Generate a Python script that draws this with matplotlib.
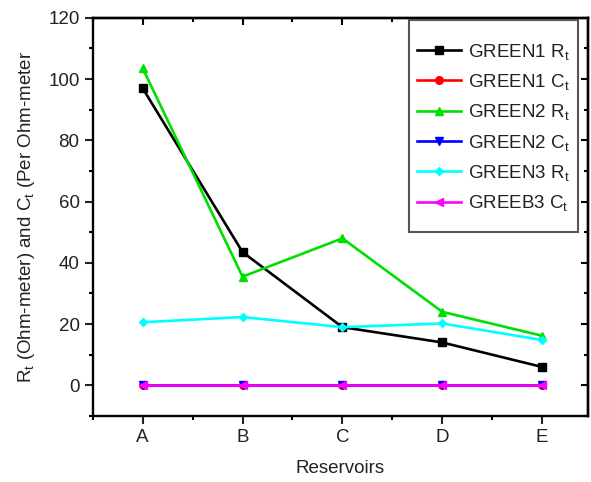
import matplotlib
matplotlib.use("Agg")
from matplotlib import pyplot as plt
from matplotlib.patches import Rectangle
from matplotlib.ticker import MultipleLocator

plt.rcParams['font.family'] = ['Liberation Sans', 'DejaVu Sans']
plt.rcParams['mathtext.default'] = 'regular'

reservoirs = ["A", "B", "C", "D", "E"]
green1_rt = [97, 43.5, 19, 14, 6]
green1_ct = [0, 0, 0, 0, 0]
green2_rt = [103.5, 35.5, 48, 24, 16.2]
green2_ct = [0, 0, 0, 0, 0]
green3_rt = [20.6, 22.3, 19, 20.2, 14.8]
greeb3_ct = [0, 0, 0, 0, 0]

x = list(range(1, len(reservoirs) + 1))

fig = plt.figure(figsize=(5.91, 4.82), dpi=100)
ax = fig.add_axes([0.157, 0.137, 0.838, 0.826])

series = [
    (green1_rt, "black", "s", "GREEN1 R$_t$"),
    (green1_ct, "red", "o", "GREEN1 C$_t$"),
    (green2_rt, "#00e000", "^", "GREEN2 R$_t$"),
    (green2_ct, "blue", "v", "GREEN2 C$_t$"),
    (green3_rt, "cyan", "D", "GREEN3 R$_t$"),
    (greeb3_ct, "magenta", "<", "GREEB3 C$_t$"),
]
for vals, col, mk, lab in series:
    ms = 4.5 if mk == "D" else 5.5
    ax.plot(x, vals, color=col, marker=mk, markersize=ms, linewidth=1.9, label=lab)

txt = '#222222'
ax.set_xlim(0.5, 5.46)
ax.set_ylim(-10, 120)
ax.set_xticks(x)
ax.set_xticklabels(reservoirs)
ax.xaxis.set_minor_locator(MultipleLocator(0.5))
ax.yaxis.set_major_locator(MultipleLocator(20))
ax.yaxis.set_minor_locator(MultipleLocator(10))
ax.tick_params(which='major', direction='out', length=6, width=1.5, labelsize=13.5, colors=txt)
ax.tick_params(which='minor', direction='out', length=3, width=1.5)
for s in ax.spines.values():
    s.set_linewidth(1.7)

top = ax.secondary_xaxis('top')
top.set_xticks(x)
top.xaxis.set_minor_locator(MultipleLocator(0.5))
top.tick_params(which='both', direction='in', labeltop=False)
top.tick_params(which='major', length=5, width=1.5)
top.tick_params(which='minor', length=3, width=1.5)
top.spines['top'].set_linewidth(1.7)
right = ax.secondary_yaxis('right')
right.yaxis.set_major_locator(MultipleLocator(20))
right.yaxis.set_minor_locator(MultipleLocator(10))
right.tick_params(which='both', direction='in', labelright=False)
right.tick_params(which='major', length=5, width=1.5)
right.tick_params(which='minor', length=3, width=1.5)
right.spines['right'].set_linewidth(1.7)

ax.set_xlabel("Reservoirs", fontsize=13.5, color=txt, labelpad=10)
ax.set_ylabel("R$_t$ (Ohm-meter) and C$_t$ (Per Ohm-meter", fontsize=13.5, color=txt, labelpad=8)

# legend box drawn by hand so the padding can differ across and down
ax.add_patch(Rectangle((0.638, 0.462), 0.342, 0.533, transform=ax.transAxes,
                       facecolor='white', edgecolor='#555555', linewidth=1.5, zorder=4))
leg = ax.legend(loc='upper left', fontsize=13.5, frameon=False, borderpad=0,
                labelspacing=0.55, handlelength=2.35, handletextpad=0.35,
                borderaxespad=0, bbox_to_anchor=(0.655, 0.94))
leg.set_zorder(5)
for t in leg.get_texts():
    t.set_color(txt)

fig.savefig("out.png", dpi=100)
